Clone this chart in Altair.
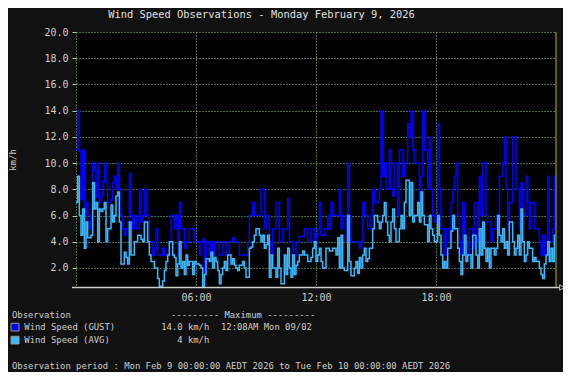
import altair as alt
import pandas as pd

# 5-minute samples, 00:00 .. 23:55 (km/h), one row per hour
gust = [
    11, 14, 10.9, 7.2, 11, 6, 7, 5.5, 5, 6, 10, 9.4,
    7.4, 10, 7, 7.5, 8.6, 10, 8.5, 7, 7, 7.2, 8.5, 9,
    8, 10, 8, 6, 5, 4.5, 5, 5.5, 9.2, 6, 5, 6,
    5, 5, 8, 5.5, 6, 8, 6, 6, 4, 4, 3, 3.5,
    5, 3, 3, 3, 3.5, 3, 3, 3, 4, 6, 6, 5,
    6, 3, 7, 5, 5, 3.5, 4, 4, 5, 5, 5, 4,
    4, 4, 3, 4, 4.2, 1.7, 4, 4, 3, 4, 3, 4,
    4, 4, 3, 3, 4, 4, 3, 3, 4, 4, 4.3, 4,
    4, 4, 3, 3, 3, 3, 3, 4, 6, 6, 7, 6,
    6, 6, 6, 8, 8, 5, 6, 6, 4, 3, 5, 5,
    7, 7, 4, 4, 5, 5, 5, 7.3, 4, 4, 3, 3,
    4, 4, 4.4, 4.4, 4.4, 5, 5, 4, 4, 5, 5, 4,
    4.5, 5, 7, 4.5, 4.5, 5, 5, 6, 5, 7, 6, 6,
    6, 6, 8, 5, 6, 6, 4, 10, 6, 4, 4, 4,
    4, 4, 3.5, 4, 7, 6, 6, 5, 5, 6, 8, 7,
    7, 7, 8, 14, 9, 10, 8, 8, 11, 8, 7.5, 10,
    10, 6, 11, 11, 9, 10, 10, 13, 12, 14, 11, 10,
    10, 10, 7, 9, 14, 11, 11, 8, 12, 8, 6, 5.5,
    6, 13, 8, 5, 5, 3, 5, 5, 4, 7, 8, 9,
    10, 6, 4, 3, 7, 4, 4, 3, 5, 5, 3.5, 7,
    7, 4, 9, 6, 10, 10, 6, 5.5, 5.5, 4, 5, 5,
    6, 6, 9, 9, 10, 12, 8, 5, 7, 7, 12, 12,
    8, 8, 5, 8.5, 6, 6, 9, 7, 5, 7, 7, 5,
    5, 5, 4, 3, 4.5, 3, 3, 9, 4, 4, 5, 9,
]
avg = [
    7, 9, 6, 4.5, 6.5, 3.5, 5.5, 4.3, 4.3, 4.5, 8.5, 6.5,
    7, 4, 6.5, 6.3, 6.5, 7, 4, 5, 5, 6.8, 5.5, 6,
    7.5, 7.8, 5.5, 2.3, 2.3, 3.2, 2.8, 2.3, 5.5, 3, 3, 4,
    4, 4.5, 4.5, 4.2, 4, 5.5, 5.5, 4, 3, 2.5, 2.5, 2,
    2, 1.2, 0.6, 0.6, 1, 1.8, 2.5, 3, 4, 4, 3, 2.8,
    1.4, 2.3, 4, 2, 2.5, 1.5, 3, 2.2, 2.5, 2.5, 1.5, 2.5,
    2.3, 2.3, 2.2, 2, 0.6, 1.5, 2.7, 2.7, 2.5, 3.2, 2, 2.8,
    2.5, 1.8, 0.8, 1.5, 2, 2.5, 1.8, 3, 3, 2.3, 2.7, 2.2,
    2, 1.8, 2.2, 2.2, 2.5, 2, 1.3, 1.3, 3.5, 3.6, 4, 4.5,
    5, 5, 4.5, 4, 4.5, 3.5, 3.8, 4.5, 1.3, 3, 2, 2,
    1.3, 3.5, 2, 0.8, 0.8, 3, 1.5, 3.5, 2, 1.3, 3, 1.5,
    2.2, 2.5, 3, 3, 3.3, 3, 3, 2.5, 2.5, 2.8, 3.5, 4,
    2.5, 3, 3.5, 2.5, 2, 2, 3.5, 3.5, 3.3, 3.3, 3.5, 3.5,
    3, 4.3, 2, 4.5, 2, 1.8, 1.8, 6, 2.5, 1.4, 1.4, 2,
    2.5, 1.6, 2.8, 2, 3, 3.5, 2.5, 2.7, 3.5, 3.5, 5, 6,
    6, 5.5, 5, 5.5, 6, 7, 5.5, 4.5, 4, 5.5, 6.5, 5,
    4, 4, 5, 6, 5, 7, 8.7, 8.7, 6, 8.5, 5.5, 6,
    6, 7, 5.5, 7.8, 6, 5.3, 5.3, 4, 6, 5, 4.5, 4,
    4, 6, 4.5, 3, 2, 2.5, 2, 3.5, 3.5, 4.8, 6, 5,
    5, 3.5, 2.5, 1.5, 3, 4.5, 2.5, 3, 3, 2, 4.5, 4.5,
    3, 2, 5, 3, 5.5, 3.5, 2.5, 3.5, 2, 3.5, 3.5, 3,
    3.5, 6, 4.5, 4, 5, 3.5, 4, 3, 5.5, 5.5, 4, 3,
    3.5, 4.5, 3, 6.5, 4, 2.5, 3, 4, 3.5, 3.5, 2.5, 2.8,
    2.5, 2.5, 2, 1.5, 1.2, 2.3, 3, 4, 2.5, 3.5, 2.5, 4.5,
]
hours = [i / 12 for i in range(len(gust))] + [24]
gust_ext = gust + [gust[-1]]
avg_ext = avg + [avg[-1]]

y_ticks = [2, 4, 6, 8, 10, 12, 14, 16, 18, 20]
x_ticks = [0, 6, 12, 18]
title_text = "Wind Speed Observations - Monday February 9, 2026"
series_names = ["Wind Speed (GUST)", "Wind Speed (AVG)"]
max_values = ["14.0 km/h", "4 km/h"]
max_time = "12:08AM Mon 09/02"
period_text = "Observation period : Mon Feb 9 00:00:00 AEDT 2026 to Tue Feb 10 00:00:00 AEDT 2026"

GUST_C = "#0000ff"
AVG_C = "#3cb8ff"
GRID_C = "#a0d090"
TXT_C = "#cfcfcf"
FONT = "DejaVu Sans Mono"

df_g = pd.DataFrame({"hour": hours, "speed": gust_ext})
df_a = pd.DataFrame({"hour": hours, "speed": avg_ext})
one = pd.DataFrame({"a": [0]})

x_axis = alt.Axis(values=x_ticks, grid=True, gridDash=[1, 2], gridColor=GRID_C,
                  ticks=False, domain=False, labelFont=FONT, labelFontSize=10,
                  labelColor=TXT_C, labelPadding=5, title=None, labelOverlap=False,
                  labelExpr="datum.value == 0 ? '' : (datum.value < 10 ? '0' : '') + datum.value + ':00'")
y_axis = alt.Axis(values=y_ticks, format=".1f", grid=True, gridDash=[1, 2],
                  gridColor=GRID_C, ticks=True, tickColor=GRID_C, tickSize=4,
                  domain=False, labelFont=FONT, labelFontSize=10, labelColor=TXT_C,
                  labelPadding=4, title=None, labelOverlap=False, labelFlush=False)
x_scale = alt.Scale(domain=[0, 24], nice=False, zero=False)
y_scale = alt.Scale(domain=[0.55, 20], nice=False, zero=False)

gust_line = alt.Chart(df_g).mark_line(interpolate="step-after", color=GUST_C, strokeWidth=1.5).encode(
    x=alt.X("hour:Q", scale=x_scale, axis=x_axis), y=alt.Y("speed:Q", scale=y_scale, axis=y_axis))
avg_line = alt.Chart(df_a).mark_line(interpolate="step-after", color=AVG_C, strokeWidth=1.5).encode(
    x=alt.X("hour:Q", scale=x_scale, axis=x_axis), y=alt.Y("speed:Q", scale=y_scale, axis=y_axis))


def label(txt, x, y, size=8.9, align="left", color=TXT_C, angle=0):
    return alt.Chart(one).mark_text(text=txt, align=align, baseline="middle", font=FONT,
                                    fontSize=size, color=color, angle=angle).encode(
        x=alt.value(x), y=alt.value(y))


right_rule = alt.Chart(one).mark_rule(color="#7a7a34", strokeWidth=1.5).encode(
    x=alt.value(480), y=alt.value(0), y2=alt.value(255))
bottom_rule = alt.Chart(one).mark_rule(color="#cccccc", strokeWidth=1.5).encode(
    x=alt.value(-4), x2=alt.value(483), y=alt.value(255.5))
arrow = alt.Chart(one).mark_point(shape="triangle-right", filled=False, color="#ffffff",
                                  size=30, strokeWidth=1).encode(x=alt.value(486), y=alt.value(255.5))

sq1 = alt.Chart(one).mark_rect(color=GUST_C, stroke="#999999", strokeWidth=1).encode(
    x=alt.value(-65), x2=alt.value(-57), y=alt.value(291.3), y2=alt.value(299))
sq2 = alt.Chart(one).mark_rect(color=AVG_C, stroke="#999999", strokeWidth=1).encode(
    x=alt.value(-65), x2=alt.value(-57), y=alt.value(304.3), y2=alt.value(312))

layers = [
    gust_line, avg_line, right_rule, bottom_rule, arrow,
    label(title_text, 185.5, -17.3, size=10.4, align="center", color="#e0e0e0"),
    label("km/h", -63, 128, size=9, align="center", angle=270),
    label("Observation", -64, 282.7),
    label("--------- Maximum ---------", 95, 282.7),
    sq1, sq2,
    label(series_names[0], -51.7, 295.3),
    label(max_values[0], 133.3, 295.3, align="right"),
    label(max_time, 145, 295.3),
    label(series_names[1], -51.7, 308.3),
    label(max_values[1], 133.3, 308.3, align="right"),
    label(period_text, -64, 334),
]

chart = alt.layer(*layers).properties(
    width=480, height=255,
    autosize=alt.AutoSizeParams(type="none"),
    padding={"left": 68, "top": 24, "right": 7, "bottom": 85},
    background="#111111",
).configure_view(fill="#000000", strokeWidth=0).configure_axis(labelOverlap=False)

chart.save("out.html", embed_options={"renderer": "svg", "actions": False})
